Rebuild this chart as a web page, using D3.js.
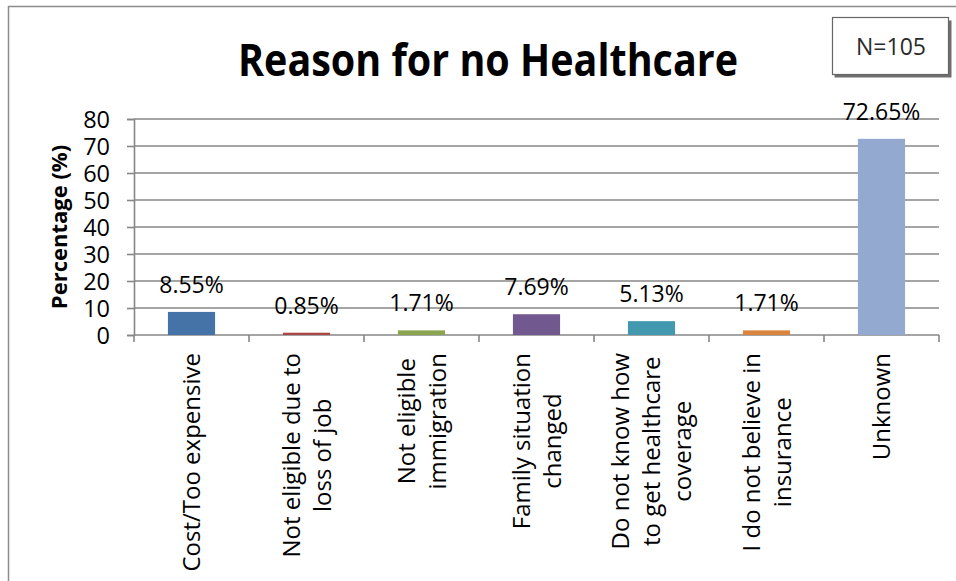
<!DOCTYPE html>
<html>
<head>
<meta charset="utf-8">
<script src="https://cdn.jsdelivr.net/npm/d3@7"></script>
<style>
  html, body { margin: 0; padding: 0; background: #fff; }
  svg { display: block; }
  text { font-family: "Open Sans", "DejaVu Sans", sans-serif; }
</style>
</head>
<body>
<svg id="chart" width="956" height="581"></svg>
<script>
// ---- data ----
const categories = [
  ["Cost/Too expensive"],
  ["Not eligible due to", "loss of job"],
  ["Not eligible", "immigration"],
  ["Family situation", "changed"],
  ["Do not know how", "to get healthcare", "coverage"],
  ["I do not believe in", "insurance"],
  ["Unknown"]
];
const values = [8.55, 0.85, 1.71, 7.69, 5.13, 1.71, 72.65];
const valueLabels = ["8.55%", "0.85%", "1.71%", "7.69%", "5.13%", "1.71%", "72.65%"];
const colors = ["#4572A7", "#AA4643", "#89A54E", "#71588F", "#4198AF", "#DB843D", "#93A9CF"];
const yTicks = [0, 10, 20, 30, 40, 50, 60, 70, 80];
const titleText = "Reason for no Healthcare";
const yTitle = "Percentage (%)";
const nText = "N=105";

// ---- layout ----
const svg = d3.select("#chart");
const plot = { left: 134, right: 939, top: 119, bottom: 335 };
const gridColor = "#878787";

// outer chart border
svg.append("rect")
  .attr("x", 8.5).attr("y", 6.5)
  .attr("width", 1000).attr("height", 1000)
  .attr("fill", "none").attr("stroke", "#8c8c8c").attr("stroke-width", 1.5);

const x = d3.scaleBand()
  .domain(d3.range(categories.length))
  .range([plot.left, plot.right])
  .paddingInner(0.59).paddingOuter(0.295);
const step = x.step();
const y = d3.scaleLinear().domain([0, 80]).range([plot.bottom, plot.top]);

// gridlines
svg.append("g").selectAll("line")
  .data(yTicks.filter(d => d > 0))
  .join("line")
  .attr("x1", plot.left).attr("x2", plot.right)
  .attr("y1", d => y(d)).attr("y2", d => y(d))
  .attr("stroke", gridColor).attr("stroke-width", 1.6);

// y axis
const yAxis = d3.axisLeft(y).tickValues(yTicks).tickSize(7).tickPadding(17);
const gy = svg.append("g").attr("transform", `translate(${plot.left},0)`).call(yAxis);
gy.select(".domain").attr("stroke", gridColor).attr("stroke-width", 1.6);
gy.selectAll(".tick line").attr("stroke", gridColor).attr("stroke-width", 1.6);
gy.selectAll(".tick text")
  .attr("font-size", 23.5).attr("fill", "#000")
  .attr("font-family", "'Open Sans', sans-serif")
  .attr("dy", "0.36em");

// x axis line + boundary ticks
svg.append("line")
  .attr("x1", plot.left).attr("x2", plot.right)
  .attr("y1", plot.bottom).attr("y2", plot.bottom)
  .attr("stroke", gridColor).attr("stroke-width", 1.6);
const boundaries = d3.range(categories.length + 1).map(i => plot.left + i * step);
svg.append("g").selectAll("line").data(boundaries).join("line")
  .attr("x1", d => d).attr("x2", d => d)
  .attr("y1", plot.bottom).attr("y2", plot.bottom + 7)
  .attr("stroke", gridColor).attr("stroke-width", 1.6);

// bars
svg.append("g").selectAll("rect")
  .data(values)
  .join("rect")
  .attr("x", (d, i) => x(i))
  .attr("width", x.bandwidth())
  .attr("y", d => y(d))
  .attr("height", d => y(0) - y(d))
  .attr("fill", (d, i) => colors[i]);

// data labels
svg.append("g").selectAll("text")
  .data(values)
  .join("text")
  .attr("x", (d, i) => x(i) + x.bandwidth() / 2)
  .attr("y", d => y(d) - 19)
  .attr("text-anchor", "middle")
  .attr("font-size", 23)
  .attr("fill", "#000")
  .text((d, i) => valueLabels[i]);

// category labels (rotated, multi-line, centered)
const labelTop = 353;
const fs = 24;
const capH = fs * 0.714;
const pitch = 31;
categories.forEach((lines, i) => {
  const c = x(i) + x.bandwidth() / 2;
  const g = svg.append("g");
  const texts = lines.map(ln => g.append("text")
    .attr("font-size", fs)
    .attr("fill", "#000")
    .attr("text-anchor", "middle")
    .text(ln));
  const maxLen = d3.max(texts, t => t.node().getComputedTextLength());
  const cy = labelTop + maxLen / 2;
  const b1 = c + (capH - (lines.length - 1) * pitch) / 2;
  texts.forEach((t, j) => {
    t.attr("transform", `translate(${b1 + j * pitch},${cy}) rotate(-90)`);
  });
});

// y axis title
svg.append("text")
  .attr("transform", `translate(67,${(plot.top + plot.bottom) / 2}) rotate(-90)`)
  .attr("text-anchor", "middle")
  .attr("font-size", 22)
  .attr("font-weight", "bold")
  .attr("fill", "#000")
  .text(yTitle);

// title
svg.append("text")
  .attr("x", 488).attr("y", 76)
  .attr("text-anchor", "middle")
  .attr("font-size", 45)
  .attr("font-weight", "bold")
  .attr("fill", "#000")
  .attr("textLength", 500)
  .attr("lengthAdjust", "spacingAndGlyphs")
  .text(titleText);

// N box with shadow
svg.append("rect")
  .attr("x", 834.5).attr("y", 20.5).attr("width", 117).attr("height", 57)
  .attr("fill", "#6f6f6f");
svg.append("rect")
  .attr("x", 832.5).attr("y", 17.5).attr("width", 116).attr("height", 57)
  .attr("fill", "#fff").attr("stroke", "#666").attr("stroke-width", 1.2);
svg.append("text")
  .attr("x", 891).attr("y", 55)
  .attr("text-anchor", "middle")
  .attr("font-size", 23)
  .attr("fill", "#2a2a2a")
  .text(nText);
</script>
</body>
</html>
